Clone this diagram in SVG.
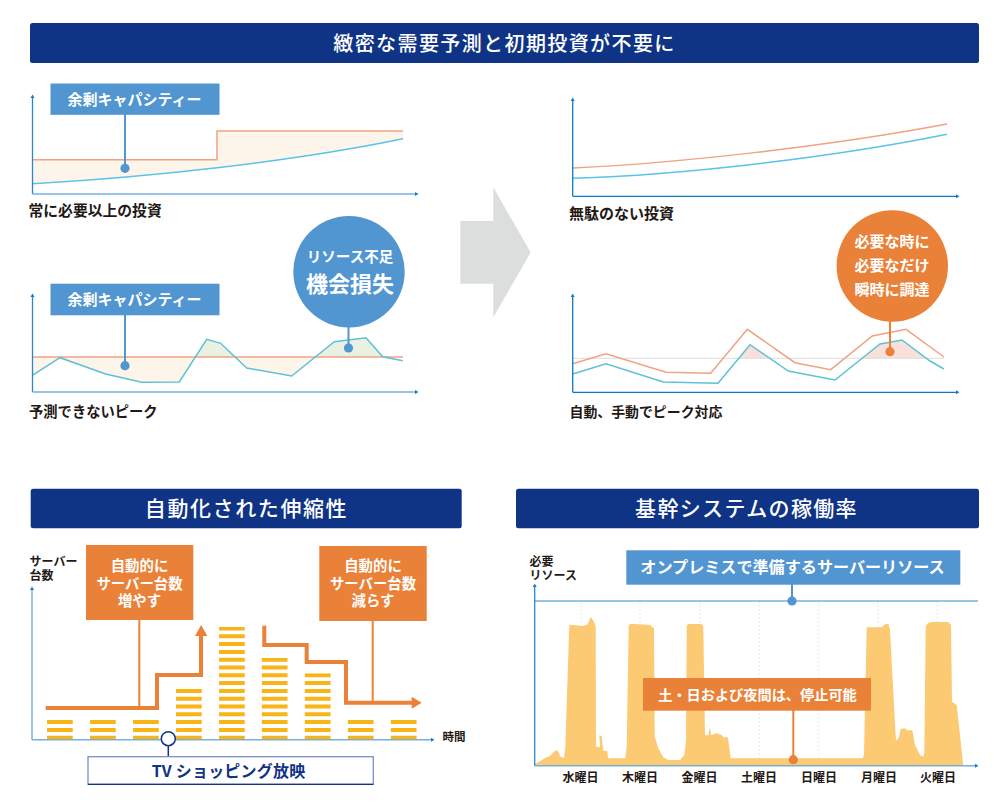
<svg xmlns="http://www.w3.org/2000/svg" width="1000" height="809" viewBox="0 0 1000 809">
<style>
text{font-family:"Noto Sans CJK JP","Noto Sans",sans-serif;font-weight:700}
.h{fill:#fff;font-weight:500;text-anchor:middle}
.w{fill:#fff;text-anchor:middle}
.k{fill:#231815}
.c{text-anchor:middle;fill:#231815;font-size:12px}
.navy{fill:#0f3385}
.bb{fill:#5195d1}
.ob{fill:#ea8138}
.axY{fill:none;stroke:#2a87cc;stroke-width:1.3;marker-end:url(#tip)}
.axX{fill:none;stroke:#76b0dc;stroke-width:1.5;marker-end:url(#tip)}
.ax2{fill:none;stroke:#0f7ac2;stroke-width:1.3;marker-end:url(#tip)}
.or{fill:none;stroke:#f0a283;stroke-width:1.5}
.cy{fill:none;stroke:#5bc3e8;stroke-width:1.5}
.zz{fill:none;stroke:#5fc1d5;stroke-width:1.5}
.pe{fill:#fdf4ea}
.gr{fill:#e9f1e3}
.pk{fill:#f9e0da}
.st{stroke:#5195d1;stroke-width:2;fill:none}
.so{stroke:#ea8138;stroke-width:2;fill:none}
.dash{stroke:#e3e9f3;stroke-width:1;stroke-dasharray:2 2}
.bar{stroke:#f9b416;stroke-width:25.7;stroke-dasharray:4 3.8;fill:none}
.flow{fill:none;stroke:#ea8138;stroke-width:4}
</style>
<defs>
<marker id="tip" markerUnits="userSpaceOnUse" markerWidth="5" markerHeight="5" refX="1" refY="2.5" orient="auto"><path d="M0 0.5L3.5 2.5L0 4.5z" fill="#1a7cc4"/></marker>
</defs>

<g id="header-top"><rect class="navy" x="30" y="23" width="949" height="40" rx="2.5"/><text class="h" x="504.5" y="50.5" font-size="20" letter-spacing="1.4">緻密な需要予測と初期投資が不要に</text></g>
<g id="header-left"><rect class="navy" x="30.7" y="488.7" width="431" height="39.6" rx="2.5"/><text class="h" x="246.5" y="516" font-size="21" letter-spacing="1.6">自動化された伸縮性</text></g>
<g id="header-right"><rect class="navy" x="516" y="488.7" width="463" height="39.6" rx="2.5"/><text class="h" x="746.5" y="516" font-size="21" letter-spacing="1.35">基幹システムの稼働率</text></g>

<g id="big-arrow"><polygon points="460.3,221 493.3,221 493.3,187.3 530.7,252.5 493.3,317.3 493.3,283.7 460.3,283.7" fill="#dcdddd"/></g>

<g id="chart-a">
<path class="pe" d="M32.5 159.7H217V131H403V138.7C290 162 150 177 32.5 183.7Z"/>
<path class="or" d="M32.5 159.7H217V131H403"/>
<path class="cy" d="M32.5 183.7C150 177 290 162 403 138.7"/>
<path class="axY" d="M32.5 194V97"/><path class="axX" d="M32.5 194H416"/>
<text class="k" x="28.5" y="215.5" font-size="14.8">常に必要以上の投資</text>
</g>

<g id="chart-b">
<polygon class="pe" points="32.3,357 195.3,357 179.3,382 141.7,382.3 105.7,374 60,357.7 32.3,375.3"/>
<polygon class="pe" points="235,357 246.7,368 291.7,376 315.3,357"/>
<polygon class="gr" points="195.3,357 206.7,339.3 220.7,343.3 235,357"/>
<polygon class="gr" points="315.3,357 334.3,341.7 366,337.7 382.7,357"/>
<path class="or" d="M32.3 357H403"/>
<polyline class="zz" points="32.3,375.3 60,357.7 105.7,374 141.7,382.3 179.3,382 206.7,339.3 220.7,343.3 246.7,368 291.7,376 334.3,341.7 366,337.7 382.7,356.7 402.7,360.7"/>
<path class="axY" d="M32.5 392V296"/><path class="axX" d="M32.5 392H416"/>
<text class="k" x="29" y="417" font-size="14.3">予測できないピーク</text>
</g>

<g id="chart-c">
<path class="or" d="M573 168C680 163 830 146 947 124"/>
<path class="cy" d="M573 178.3C680 175 830 158 947 134.3"/>
<path class="ax2" d="M572.7 196.3V100"/><path class="ax2" d="M572.7 196.3H957"/>
<text class="k" x="569" y="218.5" font-size="15">無駄のない投資</text>
</g>

<g id="chart-d">
<polygon class="pk" points="738.7,358.3 750,344.7 769.8,358.3"/>
<polygon class="pk" points="862.1,358.3 880,344 902,340 926.4,358.3"/>
<path d="M573 358.3H944" fill="none" stroke="#dedede" stroke-width="1"/>
<polyline class="or" points="572.7,363.7 606,353.7 666,372.3 710.7,373.3 747.3,329.3 795,362.7 830.7,369.7 872.3,336 906,329.3 944,357"/>
<polyline class="zz" points="572.7,374 606,363.7 663.3,382 718,383.3 750,344.7 788.3,371 835,380 880,344 902,340 930,361 944,369"/>
<path class="ax2" d="M572.7 392.3V296"/><path class="ax2" d="M572.7 392.3H957"/>
<text class="k" x="569.5" y="417" font-size="13.9">自動、手動でピーク対応</text>
</g>

<g id="chart-scaling">
<line class="bar" x1="59.9" y1="739.7" x2="59.9" y2="720.1"/>
<line class="bar" x1="102.9" y1="739.7" x2="102.9" y2="720.1"/>
<line class="bar" x1="145.9" y1="739.7" x2="145.9" y2="720.1"/>
<line class="bar" x1="188.9" y1="739.7" x2="188.9" y2="689"/>
<line class="bar" x1="231.9" y1="739.7" x2="231.9" y2="627"/>
<line class="bar" x1="274.7" y1="739.7" x2="274.7" y2="658"/>
<line class="bar" x1="317.7" y1="739.7" x2="317.7" y2="673.5"/>
<line class="bar" x1="360.7" y1="739.7" x2="360.7" y2="720.1"/>
<line class="bar" x1="403.7" y1="739.7" x2="403.7" y2="720.1"/>
<path class="axY" style="stroke:#76b0dc;stroke-width:1.5" d="M32 739.7V589"/><path class="axX" d="M32 739.7H432"/>
<text class="k" font-size="12"><tspan x="29.5" y="565.5">サーバー</tspan><tspan x="29.5" y="579.5">台数</tspan></text>
<text class="k" x="442.5" y="741" font-size="11.5">時間</text>
</g>

<g id="chart-uptime">
<path d="M534.7 765.7V764L540 761.3L545 758L550 756L555 750.7L557.3 750.3L560.7 756.7L564 758L565.3 746.7L569.3 624.7L583.3 626L587.7 624.3L590.7 617L594 621.7L595.7 626.7L596 746.7L600 747L599.3 735.3L601.7 736L603.3 750.7L607.3 750.7L608 758.3L625.3 758.3L626.7 746.7L628.7 625.3L630.7 623.7L650 625L654 628.3L654.7 736.7L658.3 748.3L663.3 757.3L668.3 760L680 760L684.3 755L686 740L686.7 626L688.3 624L701.7 624L703.3 626.7L705 735.3L708.3 735.3L710 727L711 735.3L716.7 733.3L721.7 735L724 737.7L727.3 736.7L728.3 740L730.7 758.3L862.7 758.3L864 755L866.7 627.3L881.7 627.3L885 624.3L888.3 623.7L890 630L895.7 736.7L896.7 741L899 736.7L900.7 729L905 728.3L907.3 730.3L912.3 730.3L915 745L920 755L923.3 756.7L924.3 753.3L925.7 626.7L927.7 623.3L931.7 622L948.3 622L951 625L952 701.7L956.7 705L963.3 765.7Z" fill="#fbca73"/>
<line class="dash" x1="581" y1="601" x2="581" y2="625"/>
<line class="dash" x1="640" y1="601" x2="640" y2="624"/>
<line class="dash" x1="700" y1="601" x2="700" y2="624"/>
<line class="dash" x1="759.3" y1="601" x2="759.3" y2="758"/>
<line class="dash" x1="818.7" y1="601" x2="818.7" y2="758"/>
<line class="dash" x1="878" y1="601" x2="878" y2="627"/>
<line class="dash" x1="937.3" y1="601" x2="937.3" y2="622"/>
<path d="M534.7 601H978" fill="none" stroke="#76b0dc" stroke-width="1.5"/>
<path class="axY" d="M534.7 765.7V586"/><path class="axX" d="M534.7 765.7H976"/>
<text class="k" font-size="12"><tspan x="529.5" y="565.5">必要</tspan><tspan x="529.5" y="580">リソース</tspan></text>
<text class="c" x="580.5" y="782">水曜日</text>
<text class="c" x="640" y="782">木曜日</text>
<text class="c" x="699.5" y="782">金曜日</text>
<text class="c" x="759" y="782">土曜日</text>
<text class="c" x="819" y="782">日曜日</text>
<text class="c" x="879" y="782">月曜日</text>
<text class="c" x="938" y="782">火曜日</text>
</g>

<g id="connectors">
<path class="st" d="M125 114V168"/><circle class="bb" cx="125" cy="168.3" r="4.6"/>
<path class="st" d="M125 315V365"/><circle class="bb" cx="125" cy="365.7" r="4.6"/>
<path class="st" d="M348.5 325V348"/><circle class="bb" cx="348.5" cy="348" r="4.6"/>
<path class="so" d="M890 320V351"/><circle class="ob" cx="890" cy="351.7" r="4.6"/>
<path class="so" d="M139.3 620V708"/>
<path class="so" d="M372.7 621V703"/>
<path class="flow" d="M45.7 708H157V675H201V634"/><polygon class="ob" points="195,636 207.3,636 201.1,625"/>
<path class="flow" d="M264.3 625.7V645H306.7V662H346V702.7H412"/><polygon class="ob" points="411.7,696.7 421.7,702.7 411.7,708.7"/>
<path d="M168.3 745V757" stroke="#0f3385" stroke-width="1.5" fill="none"/>
<circle cx="168.3" cy="738.7" r="7" fill="#fff" stroke="#0f3385" stroke-width="1.5"/>
<path class="st" d="M792 584V601"/><circle class="bb" cx="792" cy="601" r="4.6"/>
<path class="so" d="M793.3 710V759"/><circle class="ob" cx="793.3" cy="759.7" r="4.6"/>
</g>

<g id="label-surplus-1"><rect class="bb" x="50.5" y="83.5" width="169" height="31.3"/><text class="w" x="134.5" y="104.5" font-size="15">余剰キャパシティー</text></g>
<g id="label-surplus-2"><rect class="bb" x="50.5" y="283.7" width="169" height="31.6"/><text class="w" x="134.5" y="304.8" font-size="15">余剰キャパシティー</text></g>
<g id="bubble-shortage"><circle class="bb" cx="349" cy="271.7" r="55.7"/><text class="w"><tspan x="350" y="262" font-size="14.5">リソース不足</tspan><tspan x="350" y="292" font-size="22">機会損失</tspan></text></g>
<g id="bubble-ondemand"><circle class="ob" cx="892.3" cy="266" r="55.7"/><text class="w" font-size="15"><tspan x="892" y="247">必要な時に</tspan><tspan x="892" y="270.5">必要なだけ</tspan><tspan x="892" y="295">瞬時に調達</tspan></text></g>
<g id="box-scale-up"><rect class="ob" x="86" y="545" width="107.3" height="75"/><text class="w" font-size="14.4"><tspan x="139.5" y="571">自動的に</tspan><tspan x="139.5" y="588.5">サーバー台数</tspan><tspan x="139.5" y="606">増やす</tspan></text></g>
<g id="box-scale-down"><rect class="ob" x="319.3" y="546" width="107.4" height="75"/><text class="w" font-size="14.4"><tspan x="373" y="571">自動的に</tspan><tspan x="373" y="588.5">サーバー台数</tspan><tspan x="373" y="606">減らす</tspan></text></g>
<g id="box-tv"><rect x="88" y="756.7" width="285.3" height="27.6" fill="#fff" stroke="#7c90c4" stroke-width="1.3"/><path d="M88 784.3H373.3" stroke="#0f3385" stroke-width="1.3" fill="none"/><text x="228.5" y="776.5" font-size="16" letter-spacing="0.2" text-anchor="middle" fill="#0f3385">TV ショッピング放映</text></g>
<g id="box-onprem"><rect class="bb" x="626.3" y="550.3" width="334" height="34.4"/><text class="w" x="792.5" y="572.8" font-size="16.1">オンプレミスで準備するサーバーリソース</text></g>
<g id="box-stoppable"><rect class="ob" x="643" y="678" width="228" height="32.7"/><text class="w" x="757.5" y="699.5" font-size="14.2">土・日および夜間は、停止可能</text></g>
</svg>
